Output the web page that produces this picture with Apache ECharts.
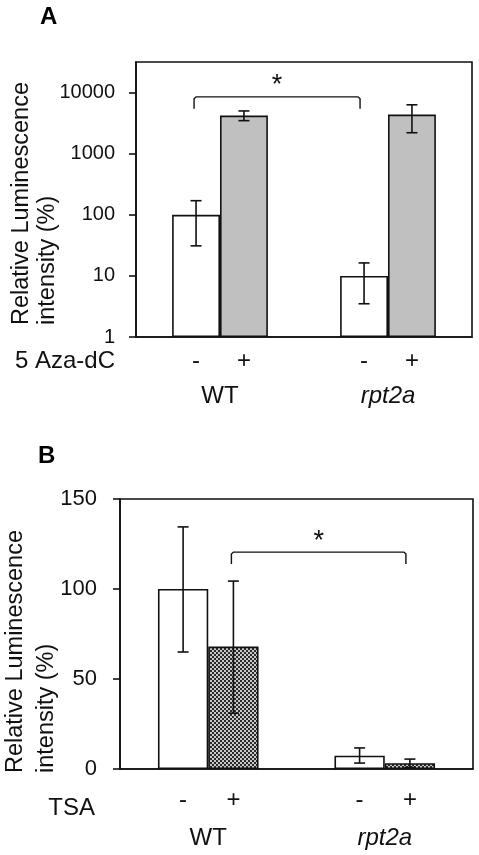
<!DOCTYPE html>
<html>
<head>
<meta charset="utf-8">
<script src="https://cdn.jsdelivr.net/npm/echarts@6/dist/echarts.min.js"></script>
<style>
  html, body { margin: 0; padding: 0; background: #fff; }
  #chart { width: 479px; height: 855px; }
</style>
</head>
<body>
<div id="chart"></div>
<script>
// ---------------- DATA ----------------
const categories = ['WT', 'rpt2a'];
const treatments = ['-', '+'];

// Panel A (log scale, 5 Aza-dC)
const aMinus = [100, 10];
const aPlus = [4200, 4370];
const aMinusErrLow = [31, 3.5];
const aMinusErrHigh = [170, 16.3];
const aPlusErrLow = [3470, 2200];
const aPlusErrHigh = [5000, 6300];
const aTicks = [1, 10, 100, 1000, 10000];
const aBracketValue = 8500;

// Panel B (linear, TSA)
const bMinus = [100, 7.4];
const bPlus = [68, 3.2];
const bMinusErrLow = [65, 3.3];
const bMinusErrHigh = [134.5, 11.7];
const bPlusErrLow = [31, 0.9];
const bPlusErrHigh = [104.4, 5.5];
const bTicks = [0, 50, 100, 150];
const bBracketValue = 120.5;

// ---------------- STYLE ----------------
const FONT = "'Liberation Sans', Arial, sans-serif";
const TXT = '#111';
const GAP = 0.43;

function makePattern() {
  const c = document.createElement('canvas');
  c.width = 4; c.height = 4;
  const g = c.getContext('2d');
  g.fillStyle = '#c8c8c8'; g.fillRect(0, 0, 4, 4);
  g.fillStyle = '#2a2a2a';
  g.fillRect(0, 0, 2, 2); g.fillRect(2, 2, 2, 2);
  return c;
}
const pattern = { image: makePattern(), repeat: 'repeat' };

function barX(api, cat, side, v) {
  const c0 = api.coord([0, v])[0];
  const c1 = api.coord([1, v])[0];
  const band = Math.abs(c1 - c0);
  const bw = band * (1 - GAP) / 2;
  const center = api.coord([cat, v])[0];
  return center + (side === 0 ? -bw / 2 : bw / 2);
}

function errorSeries(grid, lows, highs, side, refV) {
  return {
    type: 'custom', xAxisIndex: grid, yAxisIndex: grid, z: 5,
    data: categories.map((c, i) => [i, lows[i], highs[i]]),
    renderItem: function (params, api) {
      const cat = api.value(0);
      const x = barX(api, cat, side, refV);
      const yl = api.coord([cat, api.value(1)])[1];
      const yh = api.coord([cat, api.value(2)])[1];
      const cw = 5.5;
      const st = { stroke: '#111', lineWidth: 1.6, fill: null };
      return { type: 'group', children: [
        { type: 'line', shape: { x1: x, y1: yl, x2: x, y2: yh }, style: st },
        { type: 'line', shape: { x1: x - cw, y1: yl, x2: x + cw, y2: yl }, style: st },
        { type: 'line', shape: { x1: x - cw, y1: yh, x2: x + cw, y2: yh }, style: st }
      ]};
    }
  };
}

function treatmentSeries(grid, offset, refV) {
  const d = [];
  categories.forEach((c, i) => treatments.forEach((t, s) => d.push([i, s])));
  return {
    type: 'custom', xAxisIndex: grid, yAxisIndex: grid, clip: false,
    data: d,
    renderItem: function (params, api) {
      const cat = api.value(0), side = api.value(1);
      const x = barX(api, cat, side, refV);
      const cs = params.coordSys;
      return { type: 'text', x: x, y: cs.y + cs.height + offset,
        style: { text: treatments[side], font: '24px ' + FONT, fill: TXT,
                 textAlign: 'center', textVerticalAlign: 'middle' } };
    }
  };
}

function bracketSeries(grid, leftCat, leftSide, rightCat, rightSide, val, drop, starUp, refV) {
  return {
    type: 'custom', xAxisIndex: grid, yAxisIndex: grid, clip: false, z: 6,
    data: [[leftCat, leftSide, rightCat, rightSide, val]],
    renderItem: function (params, api) {
      const x1 = barX(api, api.value(0), api.value(1), refV) - 2;
      const x2 = barX(api, api.value(2), api.value(3), refV) - 4;
      const y = api.coord([0, api.value(4)])[1];
      const st = { stroke: '#111', lineWidth: 1.4, fill: null };
      return { type: 'group', children: [
        { type: 'polyline', shape: { points: [[x1, y + drop], [x1, y + 2], [x1 + 2, y], [x2 - 2, y], [x2, y + 2], [x2, y + drop]] }, style: st },
        { type: 'text', x: (x1 + x2) / 2, y: y - starUp,
          style: { text: '*', font: '27px ' + FONT, fill: TXT, textAlign: 'center', textVerticalAlign: 'middle' } }
      ]};
    }
  };
}

const axisLineStyle = { color: '#111', width: 1.6 };
const rich = { i: { fontStyle: 'italic', fontSize: 24, fontFamily: FONT, color: TXT } };
function catFormatter(v) { return v === 'rpt2a' ? '{i|rpt2a}' : v; }

const option = {
  animation: false,
  backgroundColor: '#fff',
  grid: [
    { left: 136, right: 7, top: 62, height: 275, show: true, borderColor: '#111', borderWidth: 1.6, backgroundColor: 'transparent' },
    { left: 120, right: 6, top: 499, height: 270, show: true, borderColor: '#111', borderWidth: 1.6, backgroundColor: 'transparent' }
  ],
  xAxis: [
    { type: 'category', gridIndex: 0, data: categories,
      axisLine: { lineStyle: axisLineStyle }, axisTick: { show: false },
      axisLabel: { margin: 47, fontSize: 24, fontFamily: FONT, color: TXT, formatter: catFormatter, rich: rich } },
    { type: 'category', gridIndex: 1, data: categories,
      axisLine: { lineStyle: axisLineStyle }, axisTick: { show: false },
      axisLabel: { margin: 57, fontSize: 24, fontFamily: FONT, color: TXT, formatter: catFormatter, rich: rich } }
  ],
  yAxis: [
    { type: 'log', gridIndex: 0, logBase: 10, min: 1, max: Math.pow(10, 4.5),
      splitLine: { show: false },
      axisLine: { show: true, lineStyle: axisLineStyle },
      axisTick: { show: true, inside: false, length: 7, lineStyle: axisLineStyle, customValues: aTicks },
      axisLabel: { fontSize: 20, fontFamily: FONT, color: TXT, margin: 21, customValues: aTicks, formatter: v => String(Math.round(v)) } },
    { type: 'value', gridIndex: 1, min: 0, max: 150, interval: 50,
      splitLine: { show: false },
      axisLine: { show: true, lineStyle: axisLineStyle },
      axisTick: { show: true, inside: false, length: 7, lineStyle: axisLineStyle },
      axisLabel: { fontSize: 22, fontFamily: FONT, color: TXT, margin: 23 } }
  ],
  series: [
    { type: 'bar', xAxisIndex: 0, yAxisIndex: 0, data: aMinus, barGap: '0%', barCategoryGap: '43%',
      itemStyle: { color: '#ffffff', borderColor: '#111', borderWidth: 1.6 } },
    { type: 'bar', xAxisIndex: 0, yAxisIndex: 0, data: aPlus, barGap: '0%', barCategoryGap: '43%',
      itemStyle: { color: '#c0c0c0', borderColor: '#111', borderWidth: 1.6 } },
    { type: 'bar', xAxisIndex: 1, yAxisIndex: 1, data: bMinus, barGap: '0%', barCategoryGap: '43%',
      itemStyle: { color: '#ffffff', borderColor: '#111', borderWidth: 1.6 } },
    { type: 'bar', xAxisIndex: 1, yAxisIndex: 1, data: bPlus, barGap: '0%', barCategoryGap: '43%',
      itemStyle: { color: pattern, borderColor: '#111', borderWidth: 1.6 } },
    errorSeries(0, aMinusErrLow, aMinusErrHigh, 0, 10),
    errorSeries(0, aPlusErrLow, aPlusErrHigh, 1, 10),
    errorSeries(1, bMinusErrLow, bMinusErrHigh, 0, 10),
    errorSeries(1, bPlusErrLow, bPlusErrHigh, 1, 10),
    treatmentSeries(0, 24, 10),
    treatmentSeries(1, 31, 10),
    bracketSeries(0, 0, 0, 1, 0, aBracketValue, 12, 11, 10),
    bracketSeries(1, 0, 1, 1, 1, bBracketValue, 12, 11, 10)
  ],
  graphic: [
    { type: 'text', left: 40, top: 5, style: { text: 'A', font: 'bold 24px ' + FONT, fill: '#000' } },
    { type: 'text', left: 38, top: 444, style: { text: 'B', font: 'bold 24px ' + FONT, fill: '#000' } },
    { type: 'text', x: 22, y: 325, rotation: Math.PI / 2,
      style: { text: 'Relative Luminescence', font: '23.5px ' + FONT, fill: TXT, textAlign: 'left', textVerticalAlign: 'middle' } },
    { type: 'text', x: 48, y: 325, rotation: Math.PI / 2,
      style: { text: 'intensity (%)', font: '23.5px ' + FONT, fill: TXT, textAlign: 'left', textVerticalAlign: 'middle' } },
    { type: 'text', x: 16, y: 773, rotation: Math.PI / 2,
      style: { text: 'Relative Luminescence', font: '23.5px ' + FONT, fill: TXT, textAlign: 'left', textVerticalAlign: 'middle' } },
    { type: 'text', x: 47, y: 773, rotation: Math.PI / 2,
      style: { text: 'intensity (%)', font: '23.5px ' + FONT, fill: TXT, textAlign: 'left', textVerticalAlign: 'middle' } },
    { type: 'text', x: 115, y: 361, style: { text: '5 Aza-dC', font: '24px ' + FONT, fill: TXT, textAlign: 'right', textVerticalAlign: 'middle' } },
    { type: 'text', x: 95, y: 808, style: { text: 'TSA', font: '24px ' + FONT, fill: TXT, textAlign: 'right', textVerticalAlign: 'middle' } }
  ]
};

const chart = echarts.init(document.getElementById('chart'), null, { renderer: 'canvas' });
chart.setOption(option);
</script>
</body>
</html>
